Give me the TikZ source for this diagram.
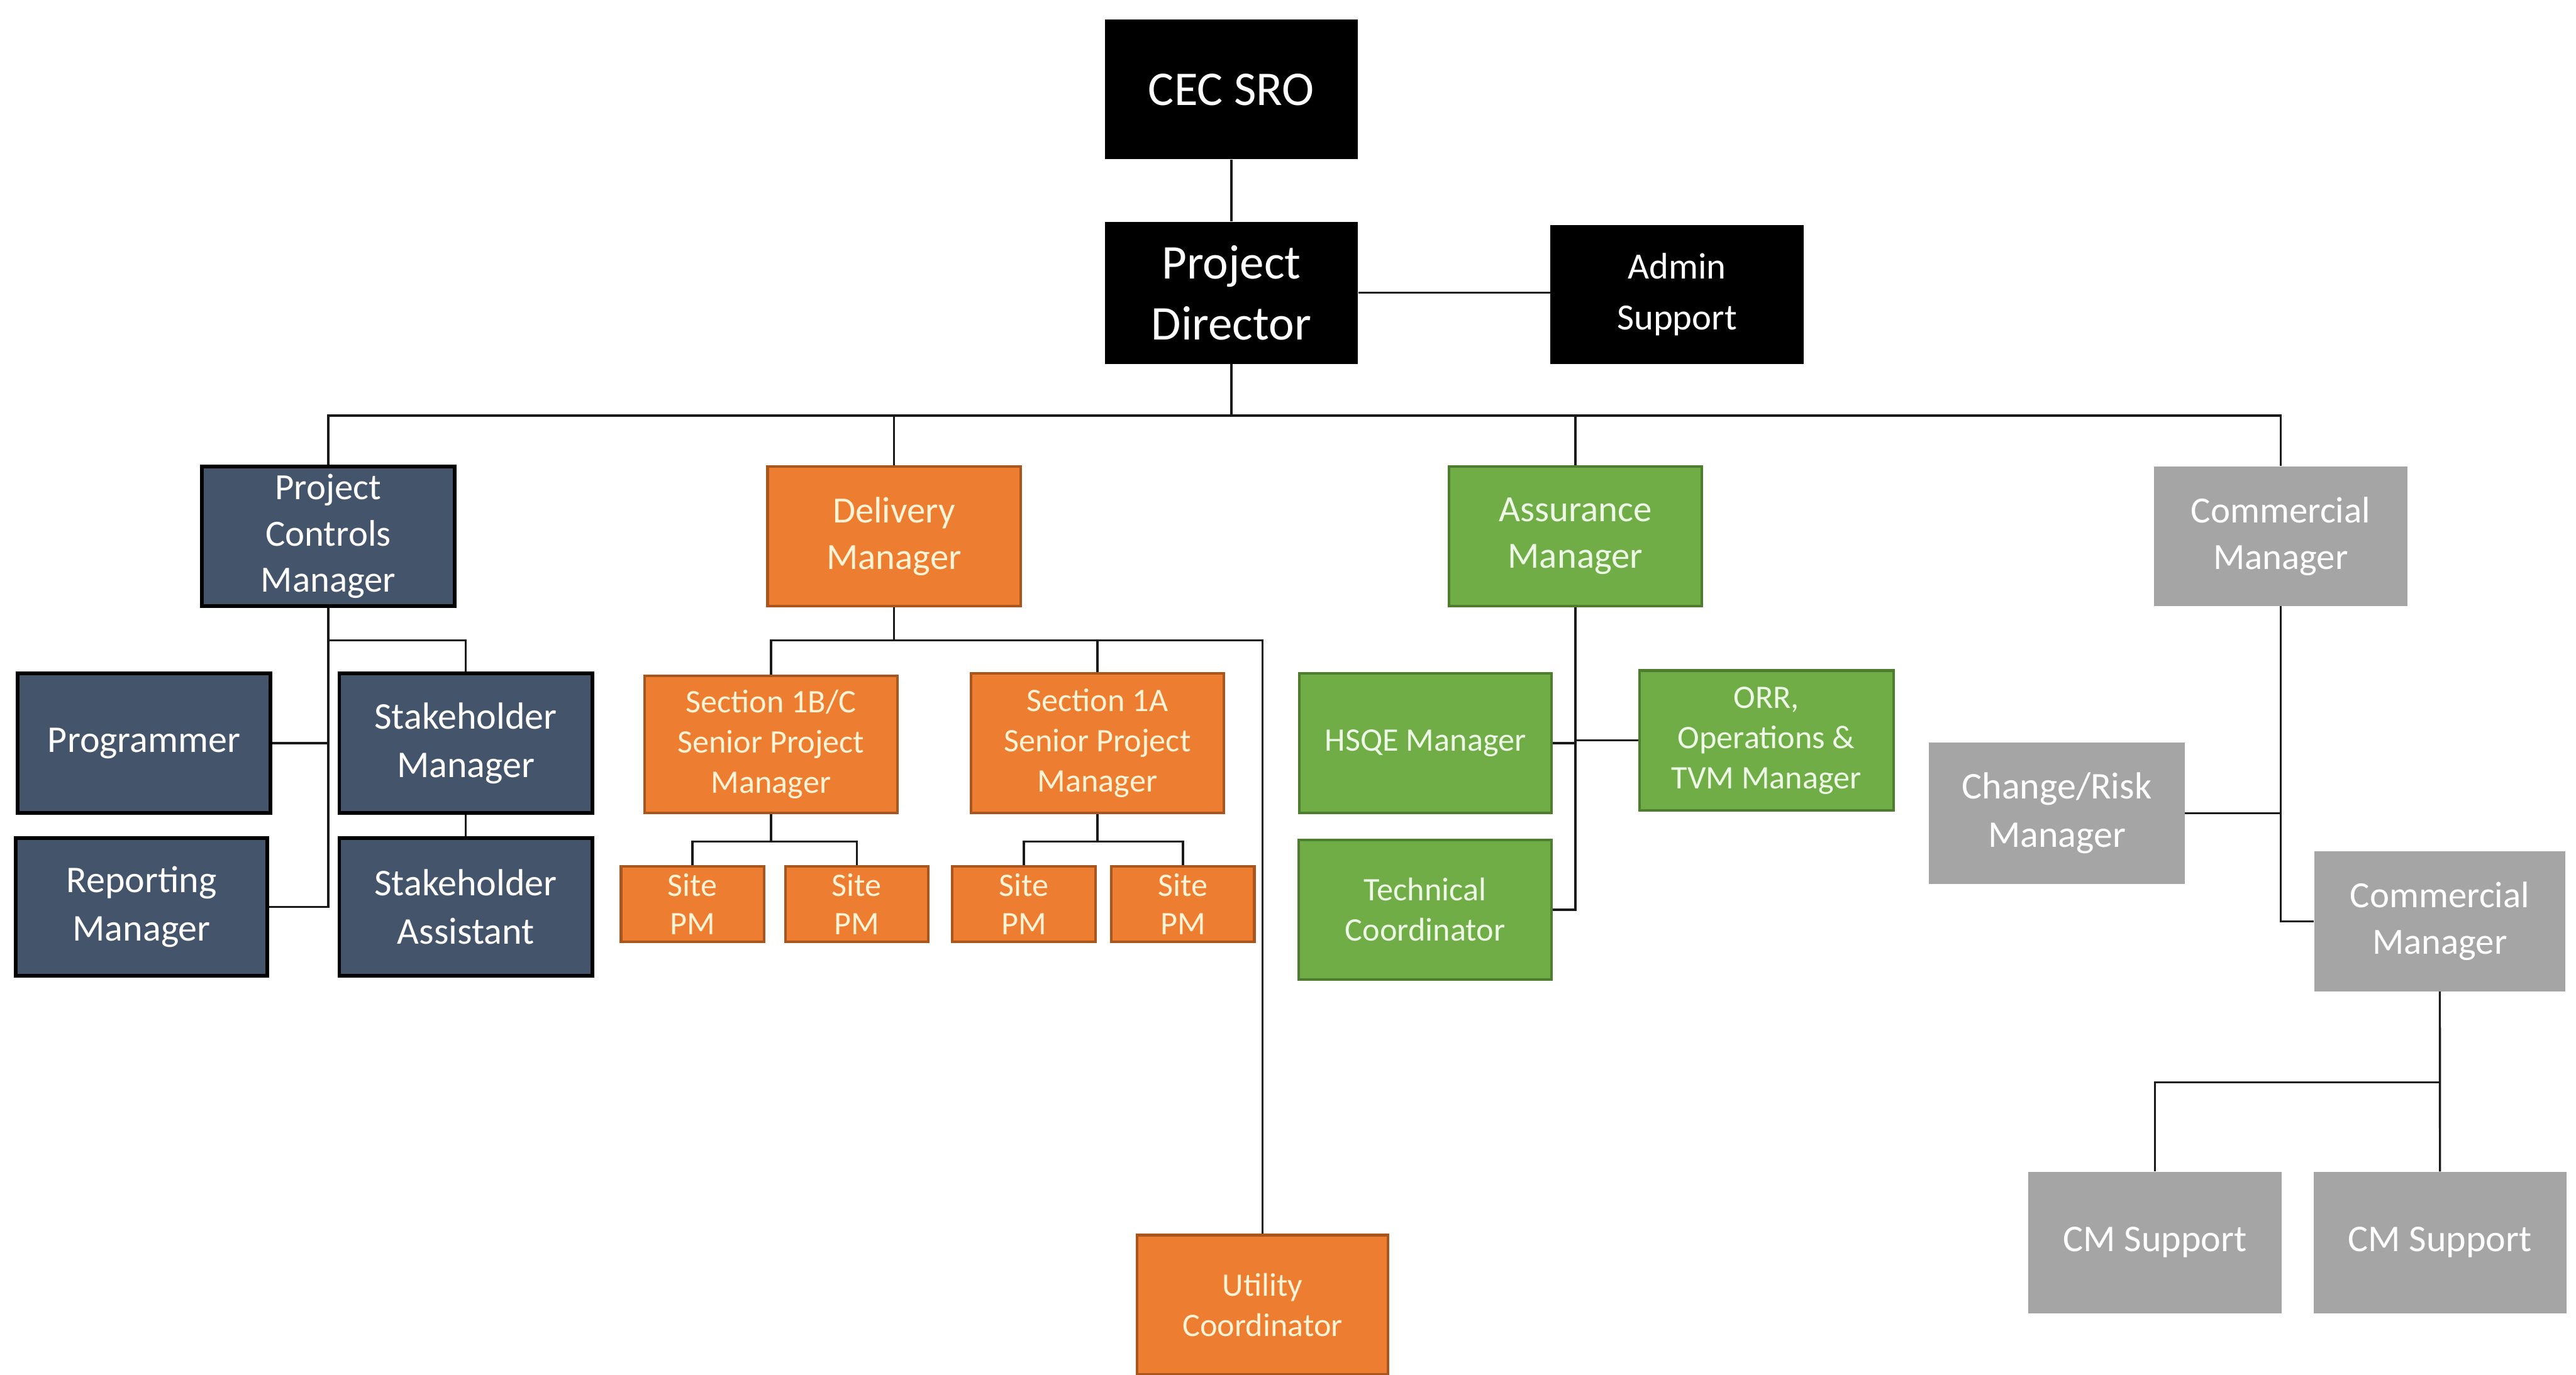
\documentclass[tikz,border=0pt]{standalone}
\usepackage{fontspec}
\setmainfont{Carlito}
\definecolor{navy}{HTML}{44546A}
\definecolor{orng}{HTML}{ED7D31}
\definecolor{orngdk}{HTML}{A9561E}
\definecolor{grn}{HTML}{70AD47}
\definecolor{grndk}{HTML}{4E7D30}
\definecolor{gry}{HTML}{A5A5A5}
\definecolor{orngtxt}{HTML}{FFF3D6}
\definecolor{grntxt}{HTML}{EEF8E6}
\definecolor{linec}{HTML}{1A1A1A}
\begin{document}
\begin{tikzpicture}[x=1pt,y=-1pt,
  base/.style={rectangle, inner sep=0pt, align=center, minimum width=154pt, minimum height=85pt},
  blk/.style={base, fill=black, text=white},
  nv/.style={base, fill=navy, draw=black, line width=2.2pt, text=white},
  org/.style={base, fill=orng, draw=orngdk, line width=1.6pt, text=orngtxt},
  gr/.style={base, fill=grn, draw=grndk, line width=1.6pt, text=grntxt},
  gy/.style={base, fill=gry, text=white},
  small/.style={minimum width=87pt, minimum height=46pt},
  fTop/.style={font=\fontsize{29.5pt}{37pt}\selectfont},
  fAdm/.style={font=\fontsize{22.5pt}{31pt}\selectfont},
  fL2/.style={font=\fontsize{22.5pt}{28.3pt}\selectfont},
  fL3/.style={font=\fontsize{23pt}{29.4pt}\selectfont},
  fSm/.style={font=\fontsize{20pt}{24.5pt}\selectfont},
  fSite/.style={font=\fontsize{20pt}{23.5pt}\selectfont},
  link/.style={draw=linec, line width=1.3pt}
]
\useasboundingbox (0,0) rectangle (1568,837);

% top
\node[blk, fTop] (cec) at (749.5,54.5) {CEC SRO};
\node[blk, fTop, minimum height=86.5pt] (pd) at (749.5,178.3) {Project\\Director};
\node[blk, fAdm, minimum height=84.5pt] (admin) at (1020.8,179.3) {Admin\\Support};

% level 2
\node[nv, fL2] (pcm) at (199.8,326.5) {Project\\Controls\\Manager};
\node[org, fL2] (dm) at (544.2,326.5) {Delivery\\Manager};
\node[gr, fL2] (am) at (958.9,326.5) {Assurance\\Manager};
\node[gy, fL2] (cm) at (1388.2,326.5) {Commercial\\Manager};

% project controls branch
\node[nv, fL3] (prog) at (87.7,452.5) {Programmer};
\node[nv, fL3] (shm) at (283.5,452.5) {Stakeholder\\Manager};
\node[nv, fL3, minimum width=153pt, minimum height=84pt] (rep) at (86.2,552.2) {Reporting\\Manager};
\node[nv, fL3, minimum height=84pt] (sha) at (283.5,552.2) {Stakeholder\\Assistant};

% delivery branch
\node[org, fSm, minimum height=83.5pt] (s1bc) at (469.3,453.3) {Section 1B/C\\Senior Project\\Manager};
\node[org, fSm] (s1a) at (668,452.5) {Section 1A\\Senior Project\\Manager};
\node[org, fSite, small] (site1) at (421.5,550.5) {Site\\PM};
\node[org, fSite, small] (site2) at (521.5,550.5) {Site\\PM};
\node[org, fSite, small] (site3) at (623.2,550.5) {Site\\PM};
\node[org, fSite, small] (site4) at (720,550.5) {Site\\PM};
\node[org, fSm, minimum width=153pt] (util) at (768.5,794.5) {Utility\\Coordinator};

% assurance branch
\node[gr, fSm, minimum width=153.5pt] (hsqe) at (867.7,452.5) {HSQE Manager};
\node[gr, fSm, minimum width=154.6pt] (orr) at (1075.2,450.8) {ORR,\\Operations \&\\TVM Manager};
\node[gr, fSm] (tech) at (867.5,553.9) {Technical\\Coordinator};

% commercial branch
\node[gy, fL3, minimum width=155.5pt, minimum height=86pt] (cr) at (1252,495.2) {Change/Risk\\Manager};
\node[gy, fL2, minimum width=153pt] (cm2) at (1485.1,561) {Commercial\\Manager};
\node[gy, fL3, minimum height=86pt] (cms1) at (1311.7,756.5) {CM Support};
\node[gy, fL3, minimum height=86pt] (cms2) at (1485.2,756.5) {CM Support};

% junction coordinates
\coordinate (topbus) at (749.5,253);
\coordinate (pcmb) at (199.8,389.8);
\coordinate (dbus) at (544.2,390);
\coordinate (sb1) at (469.3,512.3);
\coordinate (sb2) at (668,512.3);
\coordinate (cmb) at (1485.1,659);

% connectors
\path[link] (cec.south) -- (pd.north);
\path[link] (pd.east) -- (pd.east -| admin.west);
\path[link] (pd.south) -- (topbus);
\path[link] (pcm.north) |- (topbus) -| (cm.north);
\path[link] (dm.north) -- (dm.north |- topbus);
\path[link] (am.north) -- (am.north |- topbus);

\path[link] (pcm.south) |- (rep.east);
\path[link] (prog.east) -- (prog.east -| pcm.south);
\path[link] (pcmb) -| (shm.north);
\path[link] (shm.south) -- (sha.north);

\path[link] (dm.south) -- (dbus);
\path[link] (s1bc.north) |- (dbus) -| (util.north);
\path[link] (s1a.north) -- (s1a.north |- dbus);
\path[link] (s1bc.south) -- (sb1);
\path[link] (site1.north) |- (sb1) -| (site2.north);
\path[link] (s1a.south) -- (sb2);
\path[link] (site3.north) |- (sb2) -| (site4.north);

\path[link] (am.south) |- (tech.east);
\path[link] (hsqe.east) -- (hsqe.east -| am.south);
\path[link] (orr.west) -- (orr.west -| am.south);

\path[link] (cm.south) |- (cm2.west);
\path[link] (cr.east) -- (cr.east -| cm.south);
\path[link] (cm2.south) -- (cms2.north);
\path[link] (cms1.north) |- (cmb);
\end{tikzpicture}
\end{document}
